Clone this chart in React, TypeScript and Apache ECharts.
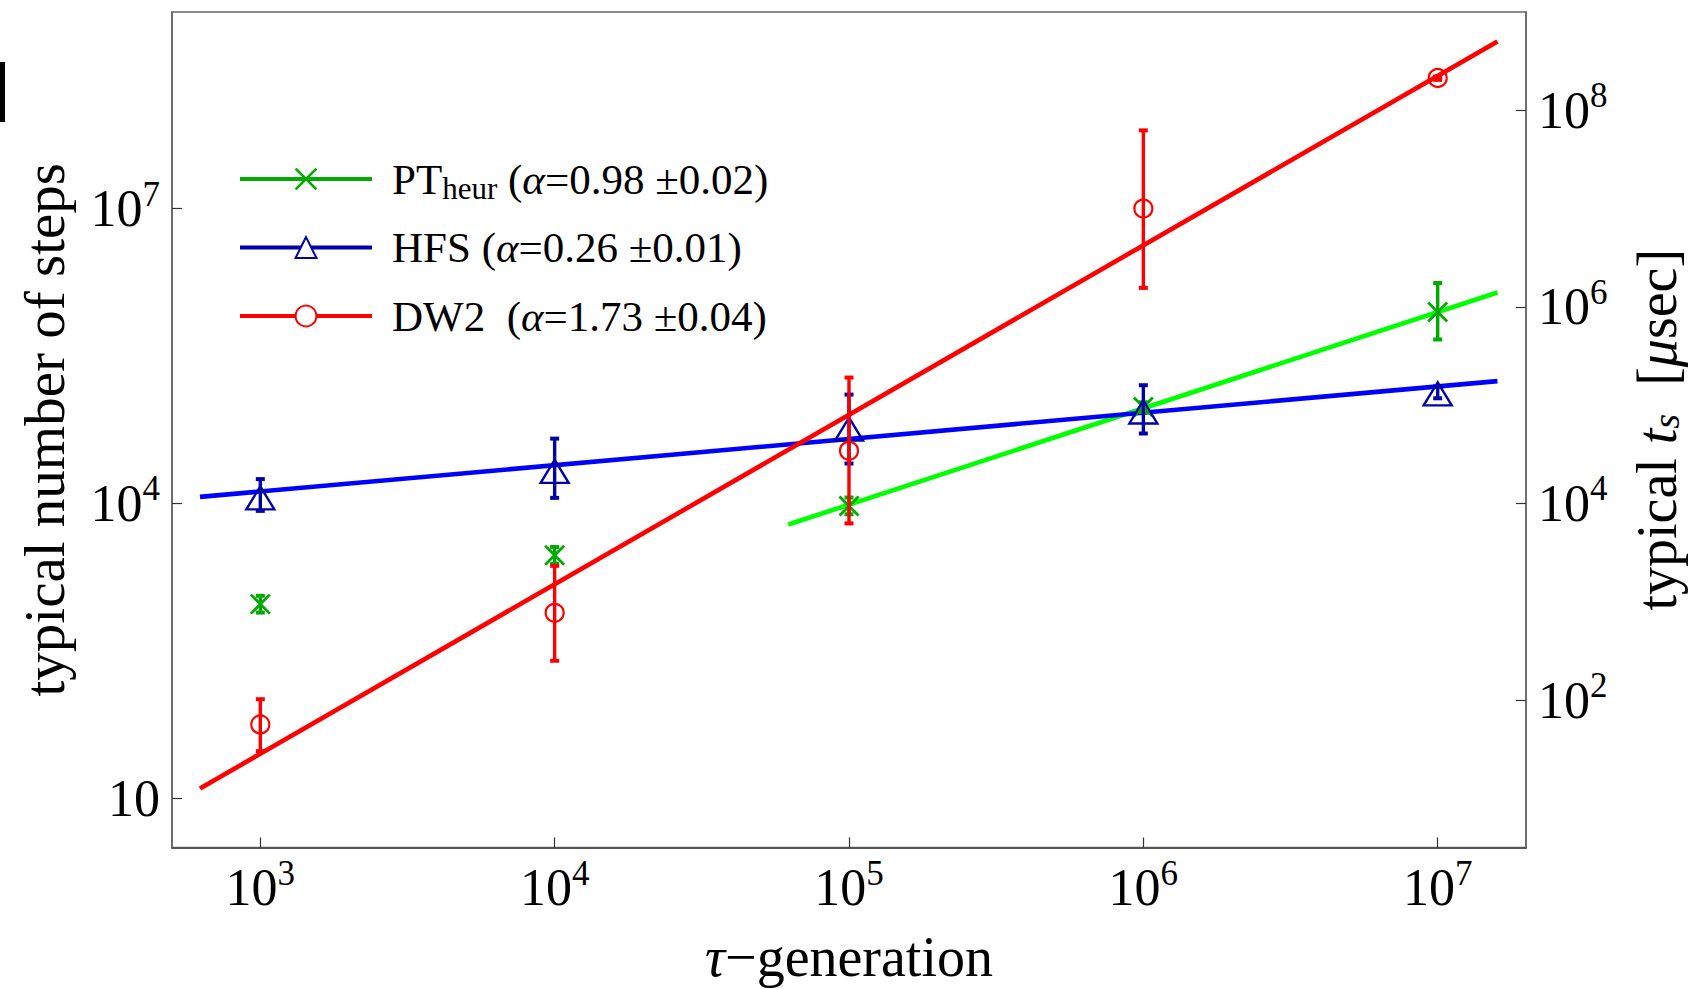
import React, { useEffect, useRef } from 'react';
import * as echarts from 'echarts';

// ---- data ----
const tauGeneration = [1e3, 1e4, 1e5, 1e6, 1e7];

const ptSteps = [946, 2980, 9400, 95900, 887000];
const ptLow = [776, 2430, 7760, 85100, 466000];
const ptHigh = [1150, 3610, 11500, 107000, 1750000];

const hfsSteps = [11400, 21200, 57000, 85300, 130300];
const hfsLow = [8410, 11400, 25500, 51500, 117500];
const hfsHigh = [17700, 45700, 128200, 159600, 155000];

const dw2Steps = [56.5, 771, 34300, 1.0e7, 2.13e8];
const dw2Low = [30.2, 251, 6270, 1.56e6, 2.04e8];
const dw2High = [102, 2320, 191000, 6.25e7, 2.21e8];

// fitted power laws (end points)
const ptFitX = [62200, 1.596e7];
const ptFitY = [6110, 1.4e6];
const hfsFitX = [624, 1.596e7];
const hfsFitY = [11670, 175800];
const dw2FitX = [624, 1.596e7];
const dw2FitY = [12.6, 5.02e8];

const xTicks = [1e3, 1e4, 1e5, 1e6, 1e7];
const leftTicks = [10, 1e4, 1e7];
const rightTicks = [1e2, 1e4, 1e6, 1e8];

const legendLabels: Record<string, string> = {
  PTheur: '{m|PT}{sub|heur}{m| (}{i|α}{m|=0.98 ±0.02)}',
  HFS: '{m|HFS (}{i|α}{m|=0.26 ±0.01)}',
  DW2: '{m|DW2  (}{i|α}{m|=1.73 ±0.04)}',
};

const FONT = '"Liberation Serif", "Times New Roman", serif';

function powLabel(v: number) {
  const e = Math.round(Math.log10(v));
  return e === 1 ? '{b|10}' : `{b|10}{sup|${e}}`;
}

const labelRich = {
  b: { fontFamily: FONT, fontSize: 52, lineHeight: 64, color: '#000' },
  sup: { fontFamily: FONT, fontSize: 35, verticalAlign: 'top', color: '#000' },
};

type Marker = 'circle' | 'triangle' | 'cross';

function errorSeries(
  name: string,
  ys: number[],
  los: number[],
  his: number[],
  color: string,
  marker: Marker
) {
  return {
    type: 'custom',
    name,
    xAxisIndex: 0,
    yAxisIndex: 0,
    z: 5,
    silent: true,
    clip: false,
    data: tauGeneration.map((x, i) => [x, ys[i], los[i], his[i]]),
    encode: { x: 0, y: [1, 2, 3] },
    renderItem: (_params: any, api: any) => {
      const x = api.value(0);
      const p = api.coord([x, api.value(1)]);
      const lo = api.coord([x, api.value(2)]);
      const hi = api.coord([x, api.value(3)]);
      const cw = 4.5;
      const children: any[] = [
        { type: 'line', shape: { x1: p[0], y1: hi[1], x2: p[0], y2: lo[1] }, style: { stroke: color, lineWidth: 3.4 } },
        { type: 'line', shape: { x1: p[0] - cw, y1: hi[1], x2: p[0] + cw, y2: hi[1] }, style: { stroke: color, lineWidth: 4 } },
        { type: 'line', shape: { x1: p[0] - cw, y1: lo[1], x2: p[0] + cw, y2: lo[1] }, style: { stroke: color, lineWidth: 4 } },
      ];
      if (marker === 'circle') {
        children.push({ type: 'circle', shape: { cx: p[0], cy: p[1], r: 9 }, style: { fill: 'none', stroke: color, lineWidth: 2.2 } });
      } else if (marker === 'triangle') {
        children.push({
          type: 'polygon',
          shape: { points: [[p[0], p[1] - 11.5], [p[0] - 14, p[1] + 11.5], [p[0] + 14, p[1] + 11.5]] },
          style: { fill: 'none', stroke: color, lineWidth: 2.4 },
        });
      } else {
        const h = 9.5;
        children.push({ type: 'line', shape: { x1: p[0] - h, y1: p[1] - h, x2: p[0] + h, y2: p[1] + h }, style: { stroke: color, lineWidth: 2.8 } });
        children.push({ type: 'line', shape: { x1: p[0] - h, y1: p[1] + h, x2: p[0] + h, y2: p[1] - h }, style: { stroke: color, lineWidth: 2.8 } });
      }
      return { type: 'group', children };
    },
  };
}

function fitSeries(name: string, xs: number[], ys: number[], color: string, symbol: string) {
  return {
    type: 'line',
    name,
    xAxisIndex: 0,
    yAxisIndex: 0,
    z: 3,
    silent: true,
    data: xs.map((x, i) => [x, ys[i]]),
    symbol,
    showSymbol: false,
    lineStyle: { color, width: 4.6 },
    itemStyle: { color },
    emphasis: { disabled: true },
  };
}

const axisLineStyle = { color: '#666', width: 1.5 };
const tickStyle = { color: '#333', width: 1.2 };

const option: any = {
  animation: false,
  backgroundColor: '#fff',
  grid: {
    left: 172,
    right: 175,
    top: 12,
    bottom: 141.5,
    show: true,
    borderColor: '#666',
    borderWidth: 1.5,
    containLabel: false,
    outerBoundsMode: 'none',
  },
  graphic: [
    { type: 'rect', shape: { x: 0, y: 62, width: 5, height: 60 }, style: { fill: '#000' } },
  ],
  legend: {
    orient: 'vertical',
    left: 238,
    top: 154,
    padding: 0,
    itemWidth: 132,
    itemHeight: 26,
    itemGap: 18.5,
    selectedMode: false,
    formatter: (name: string) => legendLabels[name],
    textStyle: {
      fontFamily: FONT,
      fontSize: 43,
      color: '#000',
      lineHeight: 50,
      padding: [0, 0, 0, 15],
      rich: {
        m: { fontFamily: FONT, fontSize: 43, color: '#000' },
        i: { fontFamily: FONT, fontSize: 43, fontStyle: 'italic', color: '#000' },
        sub: { fontFamily: FONT, fontSize: 31, verticalAlign: 'bottom', color: '#000' },
      },
    },
    data: [
      { name: 'PTheur', itemStyle: { color: '#00AA00', borderColor: '#00AA00', borderWidth: 2.6 }, lineStyle: { color: '#00AA00', width: 4 } },
      { name: 'HFS', itemStyle: { color: '#0000AA' }, lineStyle: { color: '#0000AA', width: 4 } },
      { name: 'DW2', itemStyle: { color: '#FF0000' }, lineStyle: { color: '#FF0000', width: 4 } },
    ],
  },
  xAxis: {
    type: 'log',
    logBase: 10,
    min: Math.pow(10, 2.7),
    max: Math.pow(10, 7.3),
    name: '{it|τ}−generation',
    nameLocation: 'middle',
    nameGap: 81,
    nameMoveOverlap: false,
    nameTextStyle: {
      fontFamily: FONT,
      fontSize: 56,
      color: '#000',
      rich: {
        it: { fontFamily: FONT, fontSize: 56, fontStyle: 'italic', color: '#000' },
      },
    },
    axisLine: { show: true, lineStyle: { color: '#555', width: 2 } },
    axisTick: { show: true, inside: true, length: 10, lineStyle: tickStyle, customValues: xTicks },
    axisLabel: { margin: 8, formatter: powLabel, rich: labelRich, customValues: xTicks, fontFamily: FONT },
    splitLine: { show: false },
    minorTick: { show: false },
  },
  yAxis: [
    {
      type: 'log',
      logBase: 10,
      position: 'left',
      min: Math.pow(10, 0.5),
      max: 1e9,
      name: 'typical number of steps',
      nameLocation: 'middle',
      nameRotate: 90,
      nameGap: 99,
      nameMoveOverlap: false,
      nameTextStyle: { fontFamily: FONT, fontSize: 57, color: '#000' },
      axisLine: { show: true, lineStyle: axisLineStyle },
      axisTick: { show: true, inside: true, length: 10, lineStyle: tickStyle, customValues: leftTicks },
      axisLabel: { margin: 12, formatter: powLabel, rich: labelRich, customValues: leftTicks, fontFamily: FONT },
      splitLine: { show: false },
    },
    {
      type: 'log',
      logBase: 10,
      position: 'right',
      min: Math.pow(10, 0.5),
      max: 1e9,
      name: '{n|typical }{it|t}{sub|s}{n|  [}{it|μ}{n|sec]}',
      nameLocation: 'middle',
      nameRotate: 90,
      nameGap: 103,
      nameMoveOverlap: false,
      nameTextStyle: {
        fontFamily: FONT,
        fontSize: 56,
        color: '#000',
        rich: {
          n: { fontFamily: FONT, fontSize: 56, color: '#000' },
          it: { fontFamily: FONT, fontSize: 56, fontStyle: 'italic', color: '#000' },
          sub: { fontFamily: FONT, fontSize: 38, fontStyle: 'italic', verticalAlign: 'bottom', color: '#000' },
        },
      },
      axisLine: { show: true, lineStyle: axisLineStyle },
      axisTick: { show: true, inside: true, length: 10, lineStyle: tickStyle, customValues: rightTicks },
      axisLabel: { margin: 12, formatter: powLabel, rich: labelRich, customValues: rightTicks, fontFamily: FONT },
      splitLine: { show: false },
    },
  ],
  series: [
    fitSeries('PTheur', ptFitX, ptFitY, '#00FF00', 'path://M0,0L10,10M10,0L0,10'),
    fitSeries('HFS', hfsFitX, hfsFitY, '#0000FF', 'emptyTriangle'),
    fitSeries('DW2', dw2FitX, dw2FitY, '#FF0000', 'emptyCircle'),
    errorSeries('PT points', ptSteps, ptLow, ptHigh, '#00AA00', 'cross'),
    errorSeries('HFS points', hfsSteps, hfsLow, hfsHigh, '#0000AA', 'triangle'),
    errorSeries('DW2 points', dw2Steps, dw2Low, dw2High, '#FF0000', 'circle'),
  ],
};

export default function App() {
  const ref = useRef<HTMLDivElement>(null);
  useEffect(() => {
    const chart = echarts.init(ref.current!, null, { renderer: 'svg' });
    chart.setOption(option);
    return () => chart.dispose();
  }, []);
  return (
    <div
      ref={ref}
      style={{ position: 'fixed', left: 0, top: 0, width: 1701, height: 989, background: '#fff' }}
    />
  );
}
